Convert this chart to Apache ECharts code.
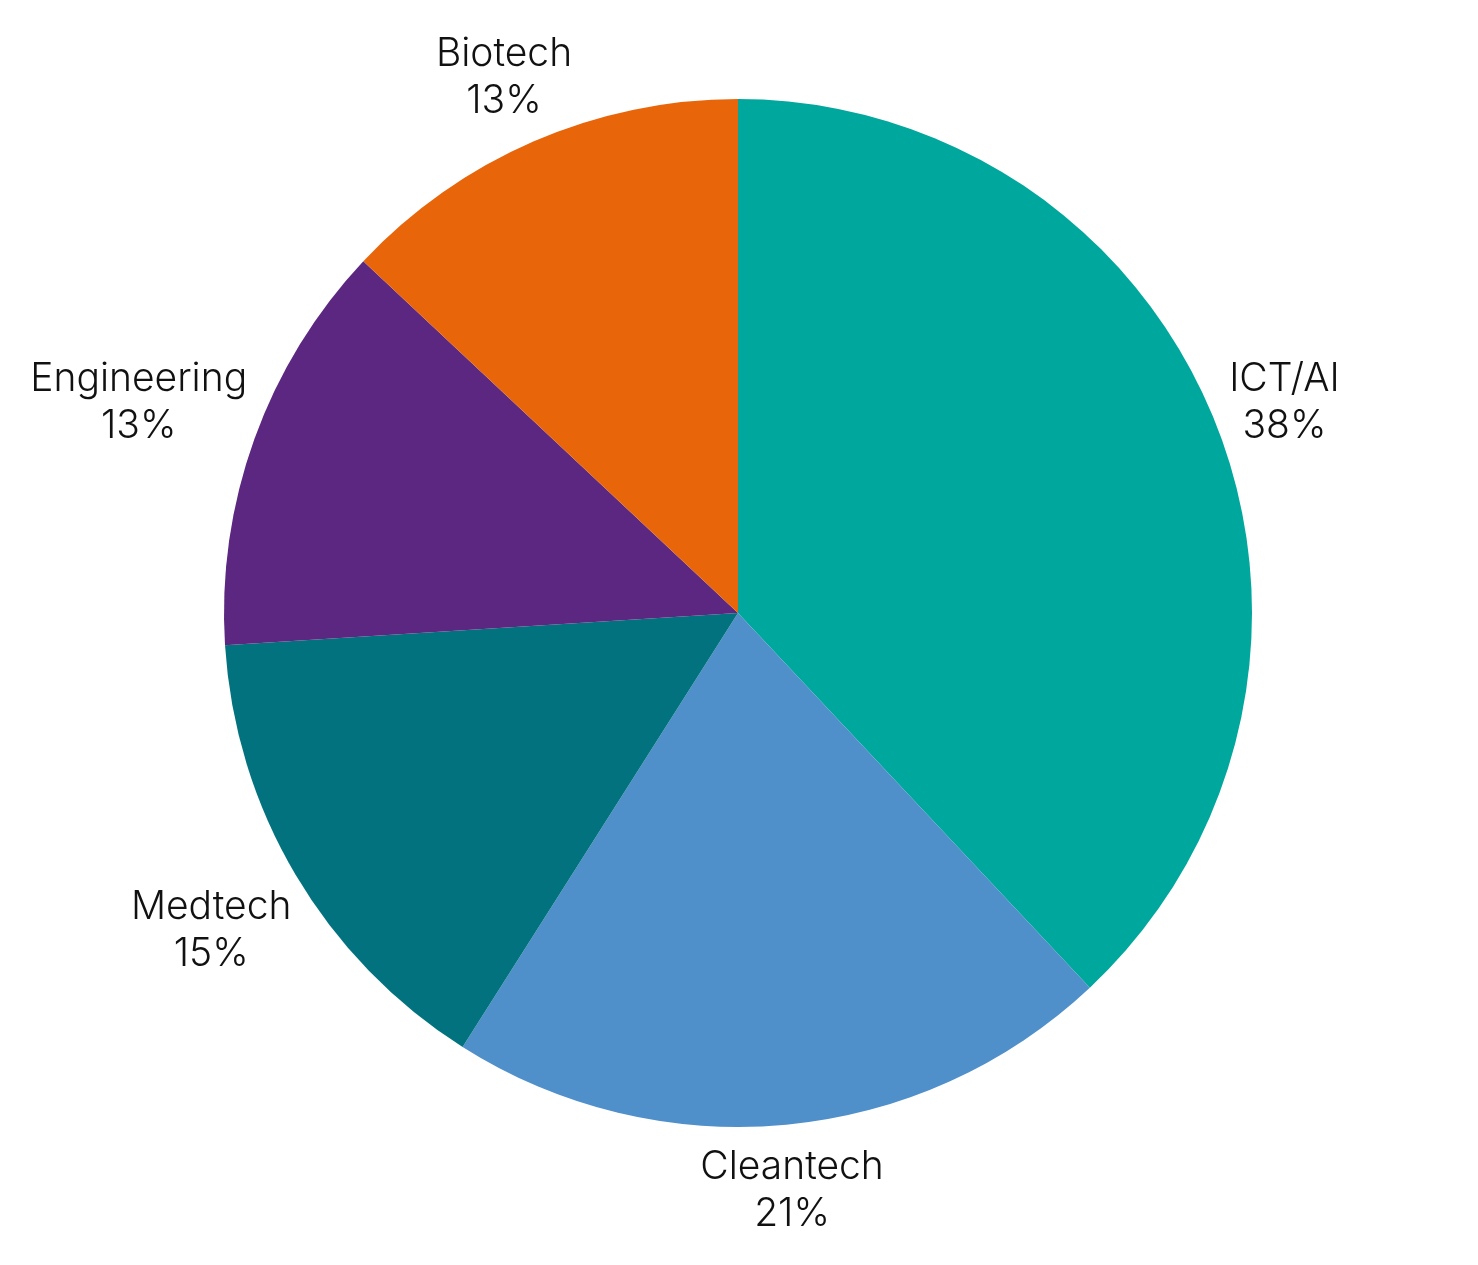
<!DOCTYPE html>
<html>
<head>
<meta charset="utf-8">
<script src="https://cdn.jsdelivr.net/npm/echarts@6/dist/echarts.min.js"></script>
<style>
html, body { margin: 0; padding: 0; background: #ffffff; }
#chart { width: 1478px; height: 1265px; }
</style>
</head>
<body>
<div id="chart"></div>
<script>
var categories = ['ICT/AI', 'Cleantech', 'Medtech', 'Engineering', 'Biotech'];
var shares = [38, 21, 15, 13, 13];
var colors = ['#00A79D', '#4F8FCA', '#02737E', '#5B2780', '#E8650A'];

var chart = echarts.init(document.getElementById('chart'), null, { renderer: 'canvas' });

var pieData = categories.map(function (name, i) {
  return { name: name, value: shares[i], itemStyle: { color: colors[i] } };
});

chart.setOption({
  backgroundColor: '#ffffff',
  animation: false,
  series: [{
    type: 'pie',
    center: [738, 613],
    radius: [0, 514],
    startAngle: 90,
    clockwise: true,
    avoidLabelOverlap: false,
    silent: true,
    itemStyle: { borderWidth: 0 },
    label: {
      show: true,
      position: 'outside',
      formatter: '{b}\n{c}%',
      fontFamily: 'Inter, "Liberation Sans", sans-serif',
      fontWeight: 300,
      fontSize: 39,
      lineHeight: 47,
      color: '#111111'
    },
    labelLine: {
      show: true,
      length: 5,
      length2: 0,
      lineStyle: { opacity: 0, width: 0 }
    },
    labelLayout: function (p) {
      var pts = p.labelLinePoints;
      if (!pts || pts.length < 2) { return {}; }
      var ux = pts[1][0] - pts[0][0];
      var uy = pts[1][1] - pts[0][1];
      var len = Math.sqrt(ux * ux + uy * uy) || 1;
      ux /= len; uy /= len;
      var hw = p.labelRect.width / 2;
      var hh = p.labelRect.height / 2;
      var s = hw * Math.abs(ux) + hh * Math.abs(uy);
      return {
        x: pts[1][0] + ux * s,
        y: pts[1][1] + uy * s + 6,
        align: 'center',
        verticalAlign: 'middle'
      };
    },
    data: pieData
  }]
});
</script>
</body>
</html>
